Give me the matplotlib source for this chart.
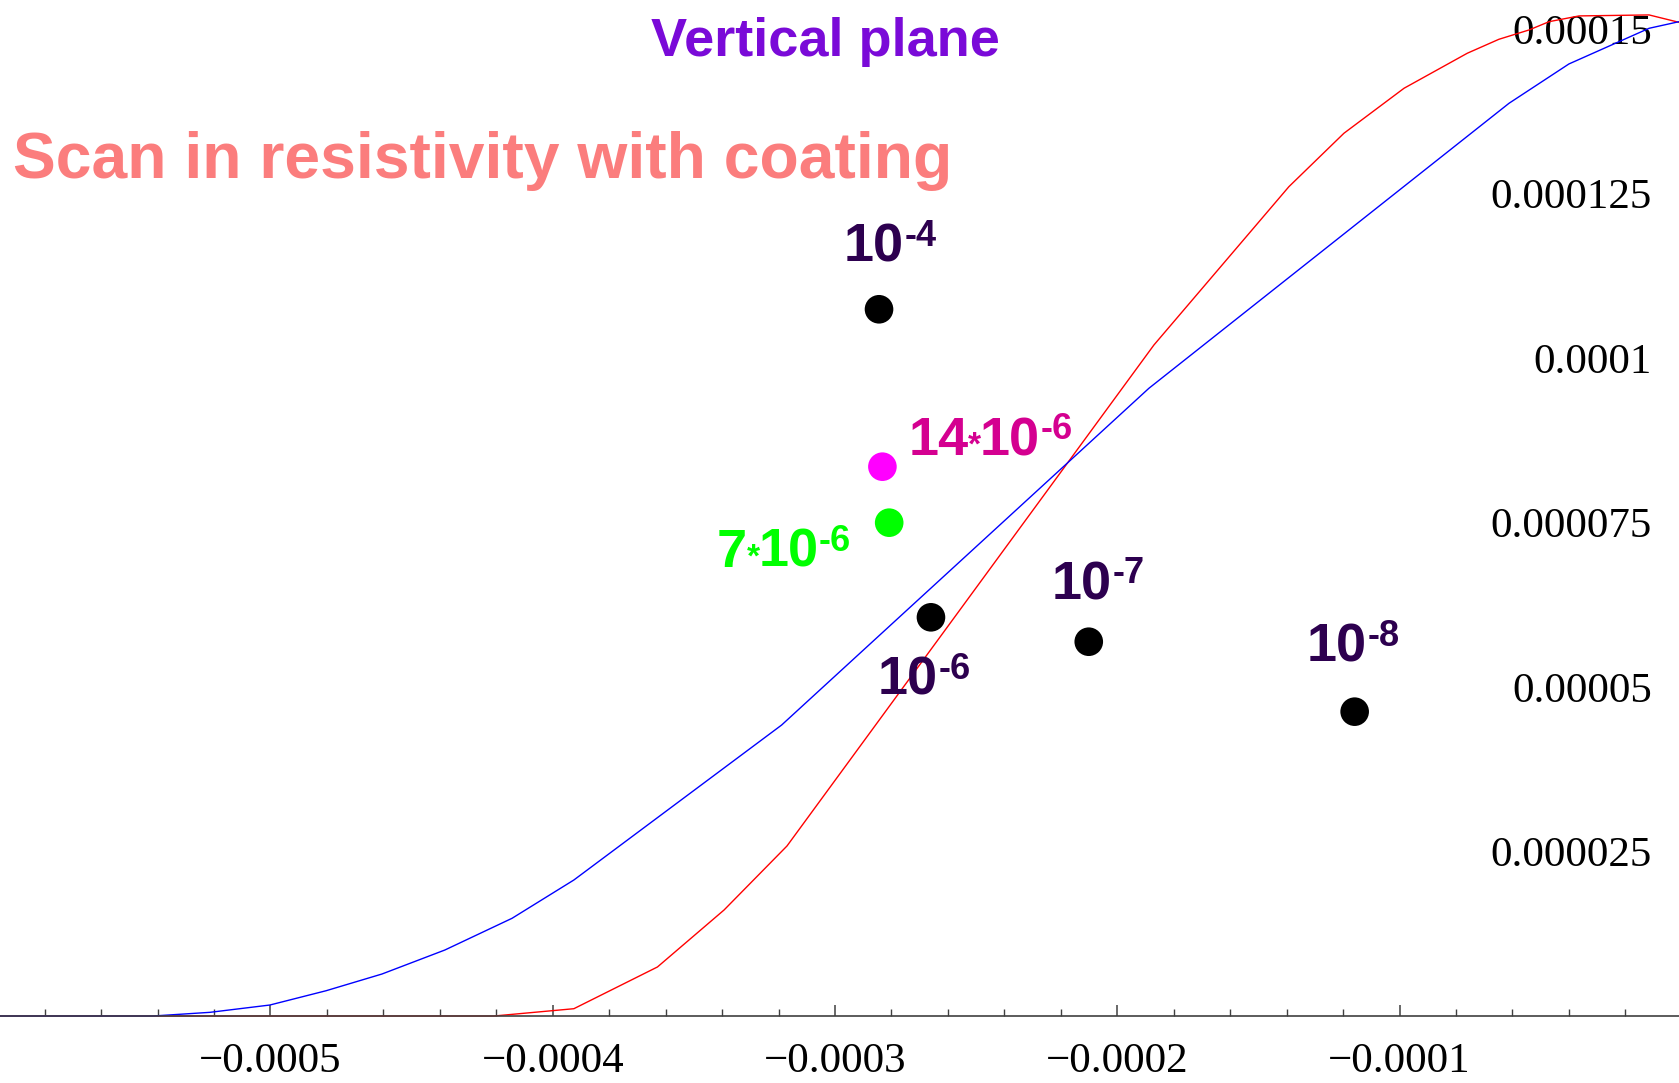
import matplotlib
matplotlib.use("Agg")
import matplotlib.pyplot as plt
from matplotlib.ticker import MultipleLocator, FixedLocator, FuncFormatter

# ---------------- data ----------------
blue_x = [-0.0006, -5.416e-4, -5.214e-4, -5.002e-4, -4.803e-4, -4.605e-4, -4.382e-4,
          -4.144e-4, -3.925e-4, -3.189e-4, -1.888e-4, -6.12e-5, -4.0e-5, -1.16e-5, 0.0]
blue_y = [0.0, 0.0, 5.6e-7, 1.67e-6, 3.84e-6, 6.38e-6, 1.003e-5,
          1.485e-5, 2.067e-5, 4.422e-5, 9.539e-5, 1.3871e-4, 1.4468e-4, 1.501e-4, 1.512e-4]

red_x = [-0.0006, -4.208e-4, -3.925e-4, -3.629e-4, -3.393e-4, -3.170e-4, -1.870e-4,
         -1.392e-4, -1.197e-4, -9.84e-5, -7.60e-5, -6.48e-5, -5.41e-5, -4.70e-5,
         -3.64e-5, -1.16e-5, 0.0]
red_y = [0.0, 0.0, 1.11e-6, 7.45e-6, 1.611e-5, 2.584e-5, 1.0198e-4,
         1.2603e-4, 1.3415e-4, 1.4099e-4, 1.4631e-4, 1.4843e-4, 1.4985e-4, 1.5111e-4,
         1.5198e-4, 1.5213e-4, 1.5090e-4]

pt_x = [-2.844e-4, -2.832e-4, -2.808e-4, -2.660e-4, -2.101e-4, -1.159e-4]
pt_y = [1.074e-4, 8.348e-5, 7.497e-5, 6.059e-5, 5.688e-5, 4.625e-5]
pt_colors = ["#000000", "#ff00ff", "#00ff00", "#000000", "#000000", "#000000"]

# label parts: (prefix before asterisk or None, base, superscript)
pt_labels = [
    (None, "10", "-4"),
    ("14", "10", "-6"),
    ("7", "10", "-6"),
    (None, "10", "-6"),
    (None, "10", "-7"),
    (None, "10", "-8"),
]
label_colors = ["#2d004f", "#d40090", "#00ff00", "#2d004f", "#2d004f", "#2d004f"]
label_offsets = [(-25.3, 34.3), (18.8, 8.4), (-124.0, -31.7),
                 (-38.5, -55.9), (-26.9, 30.5), (-34.3, 36.0)]

x_ticks_major = 1e-4
x_ticks_minor = 2e-5
y_ticks = [2.5e-5, 5e-5, 7.5e-5, 1e-4, 1.25e-4, 1.5e-4]

title_top = "Vertical plane"
title_main = "Scan in resistivity with coating"

# ---------------- figure ----------------
SANS = "Liberation Sans"
SERIF = "Liberation Serif"

fig = plt.figure(figsize=(16.79, 10.83), dpi=100)
ax = fig.add_axes([0, 0, 1, 1])
ax.set_xlim(-5.958e-4, -1e-6)
ax.set_ylim(-1.018e-5, 1.544e-4)

ax.plot(red_x, red_y, color="#ff0000", lw=1.0, zorder=2, solid_joinstyle="miter")
ax.plot(blue_x, blue_y, color="#0000ff", lw=1.0, zorder=2.1, solid_joinstyle="miter")
ax.scatter(pt_x, pt_y, s=20.6 ** 2, c=pt_colors, linewidths=0, zorder=3)

# spines
for s in ["top", "left", "right"]:
    ax.spines[s].set_visible(False)
ax.spines["bottom"].set_position(("data", 0))
ax.spines["bottom"].set_color("#404040")
ax.spines["bottom"].set_linewidth(1.2)

# x ticks
ax.xaxis.set_major_locator(MultipleLocator(x_ticks_major))
ax.xaxis.set_minor_locator(MultipleLocator(x_ticks_minor))
ax.xaxis.set_major_formatter(FuncFormatter(
    lambda v, p: "" if abs(v) < 1e-12 else ("\u2212" if v < 0 else "") + "%.4f" % abs(v)))
ax.tick_params(axis="x", which="major", direction="in", length=8, width=1.1,
               color="#404040", pad=19, labelsize=31)
ax.tick_params(axis="x", which="minor", direction="in", length=4.8, width=1.0,
               color="#404040")
for lbl in ax.get_xticklabels():
    lbl.set_fontfamily(SERIF)

# y ticks on right, labels inside
ax.yaxis.set_major_locator(FixedLocator(y_ticks))
ax.yaxis.set_major_formatter(FuncFormatter(lambda v, p: ("%.6f" % v).rstrip("0")))
ax.yaxis.tick_right()
ax.tick_params(axis="y", which="both", length=0, pad=-19.7, labelsize=31,
               labelright=True, labelleft=False)
for t in ax.yaxis.get_major_ticks():
    t.label2.set_horizontalalignment("right")
    t.label2.set_fontfamily(SERIF)

# titles
fig.text(825.6 / 1679, 1 - 55.7 / 1083, title_top, ha="center", va="baseline",
         fontsize=39, fontweight="bold", color="#7a0ad8", family=SANS)
fig.text(13 / 1679, 1 - 177.8 / 1083, title_main, ha="left", va="baseline",
         fontsize=46.3, fontweight="bold", color="#fb7d7d", family=SANS)

# point labels (built from pieces so the superscript keeps a real hyphen)
BASE, SUP, AST = 39, 26, 24
RAISE = 11.5


def piece(text, x, y, prev, dx, dy, size, color, gap=0.0):
    kw = dict(ha="left", va="baseline", fontsize=size, fontweight="bold",
              color=color, family=SANS, textcoords="offset points", zorder=4,
              annotation_clip=False)
    if prev is None:
        return ax.annotate(text, xy=(x, y), xycoords="data", xytext=(dx, dy), **kw)
    return ax.annotate(text, xy=(1, y), xycoords=(prev, "data"),
                       xytext=(gap, dy), **kw)


for x, y, (pre, base, sup), col, (dx, dy) in zip(pt_x, pt_y, pt_labels,
                                                  label_colors, label_offsets):
    prev = None
    if pre is not None:
        prev = piece(pre, x, y, prev, dx, dy, BASE, col)
        prev = piece("*", x, y, prev, dx, dy, AST, col, gap=-0.5)
        prev = piece(base, x, y, prev, dx, dy, BASE, col, gap=-1.0)
    else:
        prev = piece(base, x, y, prev, dx, dy, BASE, col)
    piece(sup, x, y, prev, dx, dy + RAISE, SUP, col, gap=0.5)

fig.savefig("out.png", dpi=100)
